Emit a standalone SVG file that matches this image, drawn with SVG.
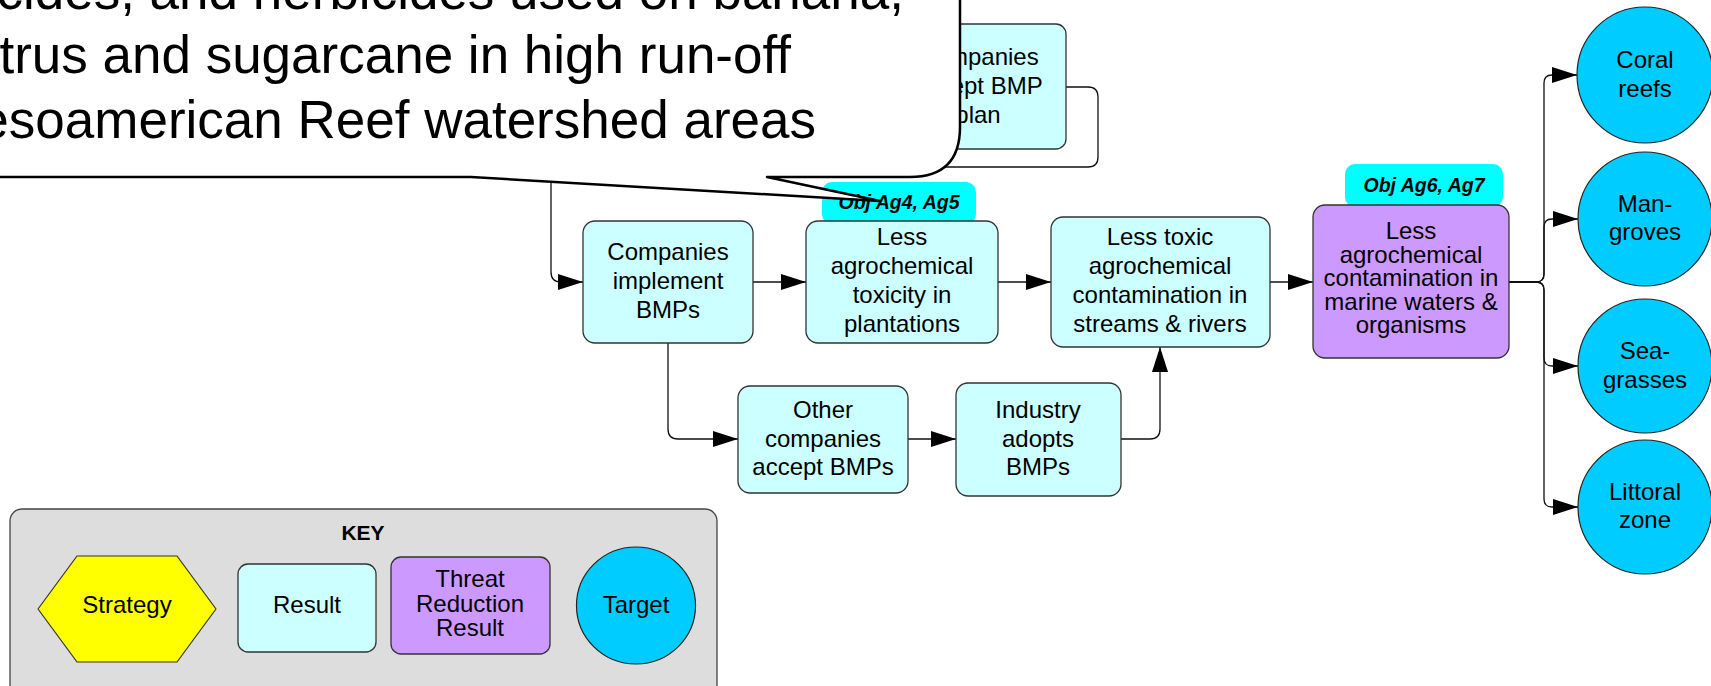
<svg xmlns="http://www.w3.org/2000/svg" width="1711" height="686" viewBox="0 0 1711 686">
  <style>
    text { font-family: "Liberation Sans", Arial, sans-serif; fill: #000; }
    .lbl { font-size: 24px; text-anchor: middle; }
    .obj { font-size: 19.5px; font-weight: bold; font-style: italic; text-anchor: middle; }
    .note { font-size: 53px; text-anchor: end; }
    .result { fill: #CCFFFF; stroke: #333; stroke-width: 1.3; }
    .threat { fill: #CC99FF; stroke: #333; stroke-width: 1.3; }
    .target { fill: #00CCFF; stroke: #222; stroke-width: 1.2; }
    .objtag { fill: #00FFFF; }
    .link { fill: none; stroke: #111; stroke-width: 1.3; marker-end: url(#arrow); }
  </style>
  <defs>
    <marker id="arrow" markerUnits="userSpaceOnUse" markerWidth="25" markerHeight="16" refX="25" refY="8" orient="auto">
      <path d="M0,0 L25,8 L0,16 Z" fill="#000"/>
    </marker>
  </defs>

  <rect x="0" y="0" width="1711" height="686" fill="#fff"/>

  <!-- connectors -->
  <g id="connectors">
    <path class="link" d="M1066,87 H1088 Q1098,87 1098,97 V157 Q1098,167 1088,167 H561 Q551,167 551,177 V272 Q551,282 561,282 H583"/>
    <path class="link" d="M753,282 H806"/>
    <path class="link" d="M998,282 H1051"/>
    <path class="link" d="M1270,282 H1313"/>
    <path class="link" d="M668,343 V429 Q668,439 678,439 H738"/>
    <path class="link" d="M908,439 H956"/>
    <path class="link" d="M1121,439 H1150 Q1160,439 1160,429 V347"/>
    <path class="link" d="M1509,282 H1536 Q1544,282 1544,274 V83 Q1544,75 1552,75 H1577"/>
    <path class="link" d="M1509,282 H1536 Q1544,282 1544,274 V227 Q1544,219 1552,219 H1578"/>
    <path class="link" d="M1509,282 H1536 Q1544,282 1544,290 V358 Q1544,366 1552,366 H1578"/>
    <path class="link" d="M1509,282 H1536 Q1544,282 1544,290 V499 Q1544,507 1552,507 H1578"/>
  </g>

  <!-- results -->
  <g id="node-companies-accept-plan">
    <rect class="result" x="890" y="24" width="176" height="125" rx="10"/>
    <text class="lbl" x="978" y="65">Companies</text>
    <text class="lbl" x="978" y="94">accept BMP</text>
    <text class="lbl" x="978" y="123">plan</text>
  </g>

  <g id="node-companies-implement">
    <rect class="result" x="583" y="221" width="170" height="122" rx="12"/>
    <text class="lbl" x="668" y="260">Companies</text>
    <text class="lbl" x="668" y="289">implement</text>
    <text class="lbl" x="668" y="318">BMPs</text>
  </g>

  <g id="obj-ag4-ag5">
    <rect class="objtag" x="822" y="182" width="154" height="42" rx="10"/>
    <text class="obj" x="899" y="209">Obj Ag4, Ag5</text>
  </g>

  <g id="node-less-toxicity-plantations">
    <rect class="result" x="806" y="221" width="192" height="122" rx="12"/>
    <text class="lbl" x="902" y="245">Less</text>
    <text class="lbl" x="902" y="274">agrochemical</text>
    <text class="lbl" x="902" y="303">toxicity in</text>
    <text class="lbl" x="902" y="332">plantations</text>
  </g>

  <g id="node-less-toxic-streams">
    <rect class="result" x="1051" y="217" width="219" height="130" rx="12"/>
    <text class="lbl" x="1160" y="245">Less toxic</text>
    <text class="lbl" x="1160" y="274">agrochemical</text>
    <text class="lbl" x="1160" y="303">contamination in</text>
    <text class="lbl" x="1160" y="332">streams &amp; rivers</text>
  </g>

  <g id="node-other-companies">
    <rect class="result" x="738" y="386" width="170" height="107" rx="12"/>
    <text class="lbl" x="823" y="418">Other</text>
    <text class="lbl" x="823" y="447">companies</text>
    <text class="lbl" x="823" y="475">accept BMPs</text>
  </g>

  <g id="node-industry-adopts">
    <rect class="result" x="956" y="383" width="165" height="113" rx="12"/>
    <text class="lbl" x="1038" y="418">Industry</text>
    <text class="lbl" x="1038" y="447">adopts</text>
    <text class="lbl" x="1038" y="475">BMPs</text>
  </g>

  <g id="obj-ag6-ag7">
    <rect class="objtag" x="1345" y="164" width="158" height="43" rx="10"/>
    <text class="obj" x="1424" y="192">Obj Ag6, Ag7</text>
  </g>

  <g id="node-less-marine-contamination">
    <rect class="threat" x="1313" y="205" width="196" height="153" rx="12"/>
    <text class="lbl" x="1411" y="239">Less</text>
    <text class="lbl" x="1411" y="262.5">agrochemical</text>
    <text class="lbl" x="1411" y="286">contamination in</text>
    <text class="lbl" x="1411" y="309.5">marine waters &amp;</text>
    <text class="lbl" x="1411" y="333">organisms</text>
  </g>

  <!-- targets -->
  <g id="target-coral-reefs">
    <circle class="target" cx="1645" cy="75" r="68"/>
    <text class="lbl" x="1645" y="68">Coral</text>
    <text class="lbl" x="1645" y="97">reefs</text>
  </g>
  <g id="target-mangroves">
    <circle class="target" cx="1645" cy="219" r="67"/>
    <text class="lbl" x="1645" y="212">Man-</text>
    <text class="lbl" x="1645" y="240">groves</text>
  </g>
  <g id="target-seagrasses">
    <circle class="target" cx="1645" cy="366" r="67"/>
    <text class="lbl" x="1645" y="359">Sea-</text>
    <text class="lbl" x="1645" y="388">grasses</text>
  </g>
  <g id="target-littoral-zone">
    <circle class="target" cx="1645" cy="507" r="67"/>
    <text class="lbl" x="1645" y="500">Littoral</text>
    <text class="lbl" x="1645" y="528">zone</text>
  </g>

  <!-- legend -->
  <g id="key">
    <rect x="10" y="509" width="707" height="190" rx="12" fill="#DDDDDD" stroke="#444" stroke-width="1.3"/>
    <text x="363" y="540" font-size="21" font-weight="bold" text-anchor="middle">KEY</text>
    <path d="M38,609 L77,556 H177 L216,609 L177,662 H77 Z" fill="#FFFF00" stroke="#333" stroke-width="1.2" stroke-linejoin="round"/>
    <text class="lbl" x="127" y="613">Strategy</text>
    <rect class="result" x="238" y="564" width="138" height="88" rx="10"/>
    <text class="lbl" x="307" y="613">Result</text>
    <rect class="threat" x="391" y="557" width="159" height="97" rx="10"/>
    <text class="lbl" x="470" y="587">Threat</text>
    <text class="lbl" x="470" y="611.5">Reduction</text>
    <text class="lbl" x="470" y="636">Result</text>
    <ellipse class="target" cx="636" cy="605.5" rx="59.5" ry="58.5"/>
    <text class="lbl" x="636" y="613">Target</text>
  </g>

  <!-- callout note -->
  <g id="callout">
    <path d="M-20,-20 H960 V127 Q960,177 910,177 H767 L880,201 L471,177 H-20 Z" fill="#fff" stroke="#000" stroke-width="2.5" stroke-linejoin="round"/>
    <text class="note" x="904" y="9">icides, and herbicides used on banana,</text>
    <text class="note" x="791" y="73">trus and sugarcane in high run-off</text>
    <text class="note" x="816" y="138">esoamerican Reef watershed areas</text>
  </g>
</svg>
